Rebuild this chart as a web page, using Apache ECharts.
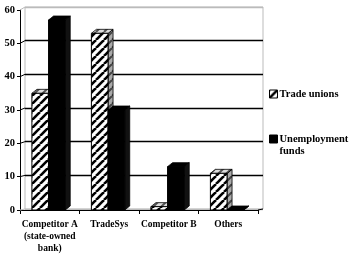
<!DOCTYPE html>
<html><head><meta charset="utf-8">
<script src="https://cdn.jsdelivr.net/npm/echarts@6/dist/echarts.min.js"></script>
<style>html,body{margin:0;padding:0;background:#fff}#c{width:350px;height:255px}</style>
</head><body><div id="c"></div>
<script>
var categories = ['Competitor A\n(state-owned\nbank)', 'TradeSys', 'Competitor B', 'Others'];
var tradeUnions = [35, 53, 1, 11];
var unemploymentFunds = [57, 30, 13, 0];
var yTicks = [0, 10, 20, 30, 40, 50, 60];
var seriesNames = ['Trade unions', 'Unemployment funds'];

var FONT = '"Liberation Serif", "DejaVu Serif", serif';
var DX = 5, DY = -4;

function makePattern(bg, fg, lw) {
  var s = 8, cv = document.createElement('canvas');
  cv.width = s; cv.height = s;
  var g = cv.getContext('2d');
  g.fillStyle = bg; g.fillRect(0, 0, s, s);
  g.strokeStyle = fg; g.lineWidth = lw;
  for (var k = -1; k <= 1; k++) {
    g.beginPath(); g.moveTo(k * s, s); g.lineTo(k * s + s, 0); g.stroke();
  }
  return { image: cv, repeat: 'repeat' };
}
var hatch = makePattern('#fff', '#000', 2.6);
var hatchTop = makePattern('#ddd', '#555', 2);
var hatchSide = makePattern('#aaa', '#444', 2);

function makeRender(which) {
  return function (params, api) {
    var i = api.value(0), v = api.value(1);
    var c = api.coord([i, 0]), t = api.coord([i, v]);
    var band = api.size([1, 0])[0];
    var bw = band * 0.28;
    var x0 = c[0] - band * 0.30 + (which ? bw : 0);
    var x1 = x0 + bw, yb = c[1], yt = t[1];
    var fFront = which ? '#000' : hatch;
    var fTop = which ? '#000' : hatchTop;
    var fSide = which ? '#111' : hatchSide;
    return {
      type: 'group',
      children: [
        { type: 'polygon', shape: { points: [[x1, yb], [x1 + DX, yb + DY], [x1 + DX, yt + DY], [x1, yt]] },
          style: { fill: fSide, stroke: '#000', lineWidth: 0.8 } },
        { type: 'polygon', shape: { points: [[x0, yt], [x1, yt], [x1 + DX, yt + DY], [x0 + DX, yt + DY]] },
          style: { fill: fTop, stroke: '#000', lineWidth: 0.8 } },
        { type: 'polygon', shape: { points: [[x0, yb], [x1, yb], [x1, yt], [x0, yt]] },
          style: { fill: fFront, stroke: '#000', lineWidth: 1 } }
      ]
    };
  };
}

var chart = echarts.init(document.getElementById('c'), null, { renderer: 'canvas' });
var ymin = yTicks[0], ymax = yTicks[yTicks.length - 1], yint = yTicks[1] - yTicks[0];
var splitColors = yTicks.map(function (v, k) { return (k === 0 || k === yTicks.length - 1) ? '#bbb' : '#000'; });
var legendText = { color: '#000', fontFamily: FONT, fontWeight: 'bold', fontSize: 10.5, lineHeight: 12, padding: [0, 0, 0, -3] };

chart.setOption({
  animation: false,
  backgroundColor: '#fff',
  grid: [
    { left: 20, right: 92, top: 10, bottom: 43 },
    { left: 25, right: 87, top: 7, bottom: 46, show: true, borderColor: '#bbb', borderWidth: 1, z: 0 }
  ],
  xAxis: [
    { type: 'category', gridIndex: 0, data: categories,
      axisLine: { lineStyle: { color: '#000', width: 1 } },
      axisTick: { show: true, length: 4, lineStyle: { color: '#000' } },
      axisLabel: { color: '#000', fontFamily: FONT, fontWeight: 'bold', fontSize: 9.5, lineHeight: 12, margin: 9, interval: 0 } },
    { type: 'category', gridIndex: 1, data: categories, show: false }
  ],
  yAxis: [
    { type: 'value', gridIndex: 0, min: ymin, max: ymax, interval: yint,
      axisLine: { show: true, lineStyle: { color: '#000', width: 1 } },
      axisTick: { show: true, length: 3, lineStyle: { color: '#000' } },
      splitLine: { show: false },
      axisLabel: { color: '#000', fontFamily: FONT, fontWeight: 'bold', fontSize: 10.5, margin: 5 } },
    { type: 'value', gridIndex: 1, min: ymin, max: ymax, interval: yint,
      axisLine: { show: false }, axisTick: { show: false }, axisLabel: { show: false },
      splitLine: { show: true, lineStyle: { color: splitColors, width: 1.3 } } }
  ],
  legend: [
    { data: [{ name: seriesNames[0], icon: 'rect', itemStyle: { color: hatch, borderColor: '#000', borderWidth: 1 } }],
      left: 269, top: 88, padding: 0, itemWidth: 8, itemHeight: 8, selectedMode: false,
      textStyle: legendText },
    { data: [{ name: seriesNames[1], icon: 'rect', itemStyle: { color: '#000', borderColor: '#000', borderWidth: 1 } }],
      left: 269, top: 121, padding: 0, itemWidth: 8, itemHeight: 8, selectedMode: false,
      formatter: function (n) { return ' \n' + n.replace(' ', '\n'); },
      textStyle: legendText }
  ],
  series: [
    { name: seriesNames[0], type: 'custom', xAxisIndex: 0, yAxisIndex: 0, renderItem: makeRender(0),
      itemStyle: { color: '#fff', borderColor: '#000' },
      encode: { x: 0, y: 1 }, data: tradeUnions.map(function (v, i) { return [i, v]; }), z: 3 },
    { name: seriesNames[1], type: 'custom', xAxisIndex: 0, yAxisIndex: 0, renderItem: makeRender(1),
      itemStyle: { color: '#000' },
      encode: { x: 0, y: 1 }, data: unemploymentFunds.map(function (v, i) { return [i, v]; }), z: 4 }
  ]
});

// decorative 3D frame diagonals linking front axes to back wall
var bandF = chart.convertToPixel({ xAxisIndex: 0 }, 1) - chart.convertToPixel({ xAxisIndex: 0 }, 0);
var bandB = chart.convertToPixel({ xAxisIndex: 1 }, 1) - chart.convertToPixel({ xAxisIndex: 1 }, 0);
var lines = [];
yTicks.forEach(function (v, k) {
  var f = chart.convertToPixel({ gridIndex: 0 }, [0, v]);
  var b = chart.convertToPixel({ gridIndex: 1 }, [0, v]);
  lines.push({ type: 'line', shape: { x1: f[0] - bandF / 2, y1: f[1], x2: b[0] - bandB / 2, y2: b[1] },
    style: { stroke: splitColors[k], lineWidth: 1 }, z: 1 });
});
var n = categories.length;
var fr = chart.convertToPixel({ gridIndex: 0 }, [n - 1, 0]);
var br = chart.convertToPixel({ gridIndex: 1 }, [n - 1, 0]);
lines.push({ type: 'line', shape: { x1: fr[0] + bandF / 2, y1: fr[1], x2: br[0] + bandB / 2, y2: br[1] },
  style: { stroke: '#000', lineWidth: 1 }, z: 1 });
chart.setOption({ graphic: lines });
</script>
</body></html>
